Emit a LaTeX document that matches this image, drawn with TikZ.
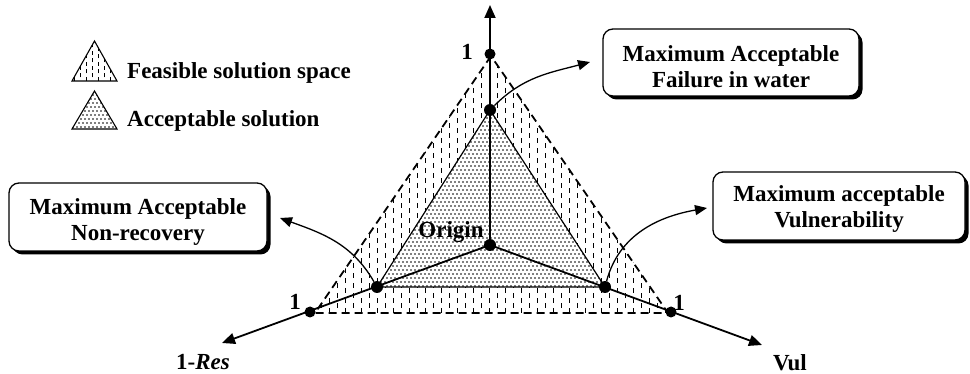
\documentclass[tikz,border=0pt]{standalone}
\usepackage{fontspec}
\setmainfont{Liberation Serif}
\usetikzlibrary{arrows.meta,shadows}
\begin{document}
\begin{tikzpicture}[x=1pt,y=1pt,
  axis/.style={line width=1.8pt,-{Triangle[length=13pt,width=11pt]}},
  callout/.style={line width=1.3pt,-{Triangle[length=12pt,width=10pt]}},
  bigdot/.style={circle,fill=black,inner sep=0pt,minimum size=12pt},
  onedot/.style={circle,fill=black,inner sep=0pt,minimum size=11pt},
  lbl/.style={font=\fontsize{23}{25}\selectfont\bfseries,inner sep=0pt},
  infobox/.style={draw,line width=1.3pt,rounded corners=10pt,fill=white,inner sep=0pt,
    drop shadow={shadow xshift=3.5pt,shadow yshift=-3.5pt,fill=black,opacity=1}},
  boxtext/.style={align=center,font=\fontsize{23}{25.5}\selectfont\bfseries,inner sep=0pt},
  dashcol/.style={line width=1pt,dash pattern=on 5pt off 5pt},
  outerline/.style={line width=1.8pt,dash pattern=on 8pt off 5pt},
  innerline/.style={line width=1.2pt},
  patdot/.style={fill=black},
]
\useasboundingbox (0,0) rectangle (970,-374);

% outer (feasible) and inner (acceptable) triangles
\coordinate (T1) at (491,-56);
\coordinate (L1) at (315,-313);
\coordinate (R1) at (668,-313);
\coordinate (iT) at (490,-110);
\coordinate (iL) at (377,-287);
\coordinate (iR) at (605,-287);

% feasible pattern: vertical dashes
\begin{scope}
  \clip (T1) -- (L1) -- (R1) -- cycle;
  \foreach \i in {0,...,45} {
    \draw[dashcol] ({313+8*\i},{-313+5*mod(\i,2)}) -- ({313+8*\i},-50);
  }
\end{scope}
% acceptable pattern: dots
\begin{scope}
  \clip (iT) -- (iL) -- (iR) -- cycle;
  \fill[white] (iT) -- (iL) -- (iR) -- cycle;
  \foreach \r in {0,...,44} {
    \foreach \c in {0,...,58} {
      \fill[patdot] ({375+4*\c+2*mod(\r,2)},{-110-4*\r}) circle (0.8pt);
    }
  }
\end{scope}
\draw[outerline] (T1) -- (L1) -- (R1) -- cycle;
\draw[innerline] (iT) -- (iL) -- (iR) -- cycle;

% legend
\coordinate (gA) at (94.5,-41);
\coordinate (gB) at (72,-81);
\coordinate (gC) at (117,-81);
\begin{scope}
  \clip (gA) -- (gB) -- (gC) -- cycle;
  \foreach \i in {0,...,7} {
    \draw[line width=1pt,dash pattern=on 4pt off 3.5pt] ({74+6*\i},{-81+3.7*mod(\i,2)}) -- ({74+6*\i},-40);
  }
\end{scope}
\draw[line width=1.1pt] (gA) -- (gB) -- (gC) -- cycle;
\coordinate (hA) at (94.5,-91);
\coordinate (hB) at (72,-129);
\coordinate (hC) at (117,-129);
\begin{scope}
  \clip (hA) -- (hB) -- (hC) -- cycle;
  \foreach \r in {0,...,10} {
    \foreach \c in {0,...,12} {
      \fill[patdot] ({71+4*\c+2*mod(\r,2)},{-91-4*\r}) circle (0.8pt);
    }
  }
\end{scope}
\draw[line width=1.1pt] (hA) -- (hB) -- (hC) -- cycle;
\node[lbl,anchor=base west] (legF) at (127,-79) {Feasible solution space};
\node[lbl,anchor=base west] (legA) at (127,-127) {Acceptable solution};

% axes
\coordinate (tipT) at (490,-5);
\coordinate (tipL) at (222,-343);
\coordinate (tipR) at (762,-345);
\node[bigdot] (O) at (490,-245) {};
\draw[axis] (O.center) -- (tipT);
\draw[axis] (O.center) -- (tipL);
\draw[axis] (O.center) -- (tipR);

% dots
\node[onedot] (nT) at (490,-54) {};
\node[onedot] (nL) at (310,-312) {};
\node[onedot] (nR) at (671,-312) {};
\node[bigdot] (aT) at (iT) {};
\node[bigdot] (aL) at (iL) {};
\node[bigdot] (aR) at (iR) {};

% labels
\node[lbl] (oneT) at (467,-52) {1};
\node[lbl] (oneL) at (295,-302) {1};
\node[lbl] (oneR) at (679,-303) {1};
\node[lbl] (origin) at (451,-232) {Origin};
\node[lbl] (res) at (203,-362) {1-\textit{Res}};
\node[lbl] (vul) at (790,-363) {Vul};

% boxes
\node[infobox,minimum width=256pt,minimum height=67pt] (bF) at (731,-62.5) {};
\node[boxtext] (bFt) at ([yshift=-4pt]bF.center) {Maximum Acceptable\\Failure in water};
\node[infobox,minimum width=258pt,minimum height=68pt] (bN) at (138,-217) {};
\node[boxtext] (bNt) at ([yshift=-5pt]bN.center) {Maximum Acceptable\\Non-recovery};
\node[infobox,minimum width=252pt,minimum height=68pt] (bV) at (839,-206) {};
\node[boxtext] (bVt) at ([yshift=-3pt]bV.center) {Maximum acceptable\\Vulnerability};

% callout arrows
\coordinate (cT) at (590,-62);
\coordinate (cL) at (280,-218);
\coordinate (cR) at (707,-208);
\draw[callout] (aT) to[out=45,in=195] (cT);
\draw[callout] (aL) to[out=120,in=-20] (cL);
\draw[callout] (aR) to[out=75,in=190] (cR);
\end{tikzpicture}
\end{document}
